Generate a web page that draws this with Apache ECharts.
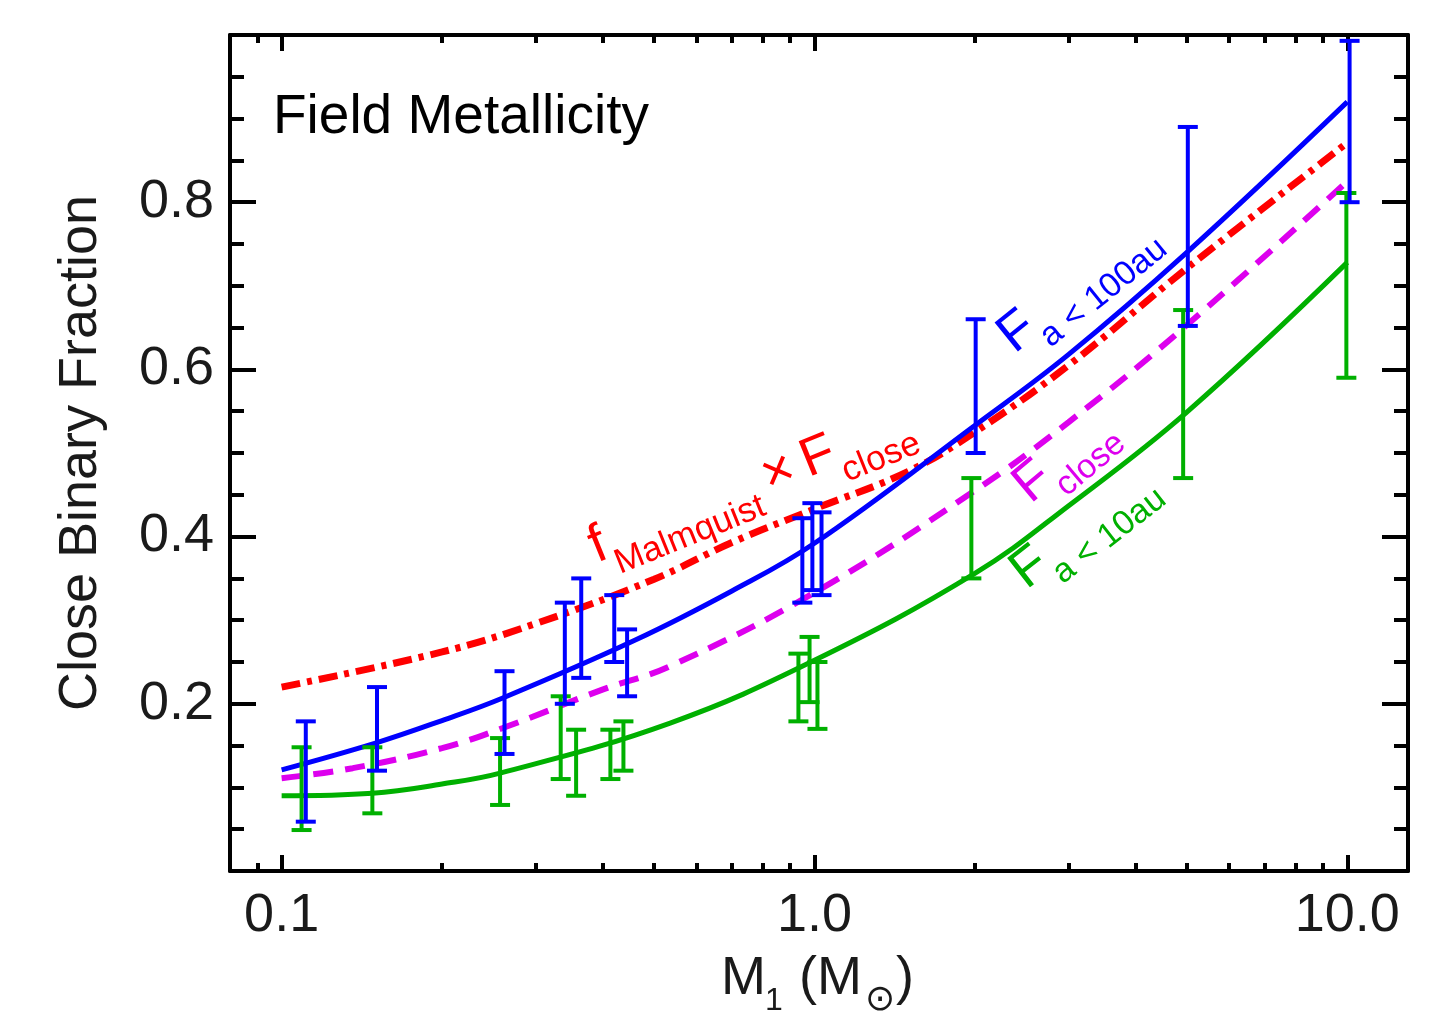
<!DOCTYPE html>
<html>
<head>
<meta charset="utf-8">
<script src="https://cdn.jsdelivr.net/npm/echarts@6/dist/echarts.min.js"></script>
<style>html,body{margin:0;padding:0;background:#fff;}#c{width:1437px;height:1027px;}</style>
</head>
<body>
<div id="c"></div>
<script>
// ---------------- data ----------------
const xMajorTicks = [0.1, 1, 10];
const xMinorTicks = [0.09, 0.2, 0.3, 0.4, 0.5, 0.6, 0.7, 0.8, 0.9, 2, 3, 4, 5, 6, 7, 8, 9];
const yLabelValues = [0.2, 0.4, 0.6, 0.8];

// F(a<100au) model curve (blue)
const wideMass = [0.1, 0.15, 0.2, 0.26, 0.46, 0.7, 1.0, 2.0, 3.0, 5.0, 10.0];
const wideFrac = [0.121, 0.153, 0.180, 0.207, 0.276, 0.335, 0.392, 0.533, 0.618, 0.740, 0.920];
// f_Malmquist x F_close (red)
const malmMass = [0.1, 0.2, 0.3, 0.5, 0.7, 1.0, 1.5, 2.0, 3.0, 5.0, 10.0];
const malmFrac = [0.220, 0.262, 0.296, 0.349, 0.393, 0.433, 0.478, 0.525, 0.605, 0.721, 0.871];
// F_close (magenta)
const closeMass = [0.1, 0.136, 0.2, 0.26, 0.4, 0.536, 1.0, 2.0, 3.0, 5.0, 10.0];
const closeFrac = [0.111, 0.123, 0.147, 0.171, 0.217, 0.245, 0.333, 0.455, 0.537, 0.653, 0.825];
// F(a<10au) model curve (green)
const nearMass = [0.1, 0.148, 0.2, 0.257, 0.536, 1.0, 2.0, 3.0, 5.0, 10.0];
const nearFrac = [0.090, 0.093, 0.104, 0.117, 0.177, 0.252, 0.356, 0.437, 0.549, 0.728];

// error bars a<100au (blue)
const wideBarMass = [0.111, 0.151, 0.262, 0.340, 0.365, 0.421, 0.445, 0.949, 0.991, 1.031, 2.007, 5.02, 10.1];
const wideBarLo   = [0.059, 0.120, 0.140, 0.200, 0.231, 0.250, 0.209, 0.321, 0.336, 0.330, 0.500, 0.652, 0.800];
const wideBarHi   = [0.179, 0.220, 0.239, 0.321, 0.350, 0.330, 0.289, 0.422, 0.440, 0.429, 0.660, 0.890, 0.993];
// error bars a<10au (green)
const nearBarMass = [0.109, 0.148, 0.257, 0.334, 0.357, 0.414, 0.438, 0.933, 0.979, 1.013, 1.97, 4.92, 9.96];
const nearBarLo   = [0.049, 0.069, 0.079, 0.110, 0.090, 0.110, 0.120, 0.179, 0.202, 0.170, 0.350, 0.470, 0.590];
const nearBarHi   = [0.148, 0.148, 0.159, 0.209, 0.169, 0.169, 0.179, 0.260, 0.280, 0.250, 0.470, 0.671, 0.811];

// ---------------- styling ----------------
const FONT = "'Liberation Sans', Arial, Helvetica, sans-serif";
const BLUE = '#0000ff', RED = '#ff0000', MAG = '#dd00ee', GREEN = '#00b000';
const TXT = '#1a1a1a';

const zip2 = (a, b) => a.map((v, i) => [v, b[i]]);
const zip3 = (a, b, c) => a.map((v, i) => [v, b[i], c[i]]);

function errorBar(color) {
  return function (params, api) {
    const x = api.value(0), lo = api.value(1), hi = api.value(2);
    const a = api.coord([x, lo]);
    const b = api.coord([x, hi]);
    const hw = 10;
    const st = { stroke: color, lineWidth: 4 };
    return {
      type: 'group',
      children: [
        { type: 'line', shape: { x1: a[0], y1: a[1], x2: b[0], y2: b[1] }, style: st },
        { type: 'line', shape: { x1: a[0] - hw, y1: a[1], x2: a[0] + hw, y2: a[1] }, style: st },
        { type: 'line', shape: { x1: b[0] - hw, y1: b[1], x2: b[0] + hw, y2: b[1] }, style: st }
      ]
    };
  };
}

function txt(x, baseline, text, size, color, family, align) {
  return {
    type: 'text', x: x, y: baseline - 0.32 * size,
    style: { text: text, font: size + 'px ' + (family || FONT), fill: color, align: align || 'left', verticalAlign: 'middle' }
  };
}
function rotLabel(ox, oy, deg, children) {
  return { type: 'group', x: ox, y: oy, rotation: deg * Math.PI / 180, children: children };
}

const lineAxisStyle = { color: '#000', width: 4 };

function xAxisDef(grid, pos, major) {
  return {
    gridIndex: grid, type: 'log', logBase: 10, min: 0.08, max: 13, position: pos,
    axisLine: { show: major, onZero: false, lineStyle: lineAxisStyle },
    axisTick: { show: true, inside: true, length: major ? 16 : 8, customValues: major ? xMajorTicks : xMinorTicks,
                lineStyle: { color: '#000', width: 4 } },
    axisLabel: { show: major && pos === 'bottom', customValues: xMajorTicks, margin: 18,
                 formatter: v => Number(v).toFixed(1), fontSize: 54, fontFamily: FONT, color: TXT },
    minorTick: { show: false }, splitLine: { show: false }, minorSplitLine: { show: false }
  };
}

function yAxisDef(grid, pos, show) {
  return {
    gridIndex: grid, type: 'value', min: 0, max: 1, interval: 0.2, position: pos, show: show,
    axisLine: { show: true, onZero: false, lineStyle: lineAxisStyle },
    axisTick: { show: true, inside: true, length: 26, lineStyle: { color: '#000', width: 4 } },
    minorTick: { show: true, splitNumber: 4, length: 14, lineStyle: { color: '#000', width: 4 } },
    axisLabel: { show: pos === 'left', customValues: yLabelValues, margin: 16,
                 formatter: v => Number(v).toFixed(1), fontSize: 54, fontFamily: FONT, color: TXT },
    splitLine: { show: false }, minorSplitLine: { show: false }
  };
}

const xAxes = [xAxisDef(0, 'bottom', true), xAxisDef(0, 'top', true), xAxisDef(1, 'bottom', false), xAxisDef(1, 'top', false)];
const yAxes = [yAxisDef(0, 'left', true), yAxisDef(0, 'right', true), yAxisDef(1, 'left', false)];
Object.assign(yAxes[0], {
  name: 'Close Binary Fraction', nameLocation: 'middle', nameGap: 122,
  nameTextStyle: { color: TXT, fontFamily: FONT, fontSize: 54 }
});

const option = {
  animation: false,
  backgroundColor: '#fff',
  grid: [
    { left: 230, right: 29, top: 35, bottom: 156 },
    { left: 230, right: 29, top: 35, bottom: 156 }
  ],
  xAxis: xAxes,
  yAxis: yAxes,
  series: [
    { name: 'F_close', type: 'line', data: zip2(closeMass, closeFrac), showSymbol: false, smooth: 0.4,
      lineStyle: { color: MAG, width: 6, type: [20, 12] }, z: 3 },
    { name: 'f_Malmquist x F_close', type: 'line', data: zip2(malmMass, malmFrac), showSymbol: false, smooth: 0.4,
      lineStyle: { color: RED, width: 7, type: [19, 7, 5, 7] }, z: 3 },
    { name: 'F a<10au', type: 'line', data: zip2(nearMass, nearFrac), showSymbol: false, smooth: 0.4,
      lineStyle: { color: GREEN, width: 5 }, z: 3 },
    { name: 'F a<100au', type: 'line', data: zip2(wideMass, wideFrac), showSymbol: false, smooth: 0.4,
      lineStyle: { color: BLUE, width: 5 }, z: 3 },
    { name: 'a<10au bars', type: 'custom', renderItem: errorBar(GREEN), data: zip3(nearBarMass, nearBarLo, nearBarHi),
      encode: { x: 0, y: [1, 2] }, z: 4 },
    { name: 'a<100au bars', type: 'custom', renderItem: errorBar(BLUE), data: zip3(wideBarMass, wideBarLo, wideBarHi),
      encode: { x: 0, y: [1, 2] }, z: 4 }
  ],
  graphic: [
    txt(273, 135, 'Field Metallicity', 55, '#000'),
    // x-axis title: M_1 (M_sun)
    txt(721, 996, 'M', 54, TXT),
    txt(765, 1011, '1', 32, TXT),
    txt(799, 996, '(', 54, TXT),
    txt(817, 996, 'M', 54, TXT),
    txt(880, 1012, '\u2299', 36, TXT, "'DejaVu Sans', sans-serif", 'center'),
    txt(896, 996, ')', 54, TXT),
    rotLabel(598, 565, 22, [
      txt(0, 0, 'f', 54, RED),
      txt(17, 18, 'Malmquist', 35, RED),
      txt(186, 0, '\u00d7', 54, RED),
      txt(228, 0, 'F', 54, RED),
      txt(262, 18, 'close', 35, RED)
    ]),
    rotLabel(1016, 356, 39, [
      txt(0, 0, 'F', 54, BLUE),
      txt(32, 17, 'a < 100au', 34, BLUE)
    ]),
    rotLabel(1032, 506, 40, [
      txt(0, 0, 'F', 54, MAG),
      txt(32, 17, 'close', 34, MAG)
    ]),
    rotLabel(1028, 592, 38, [
      txt(0, 0, 'F', 54, GREEN),
      txt(32, 17, 'a < 10au', 34, GREEN)
    ])
  ]
};

const chart = echarts.init(document.getElementById('c'), null, { renderer: 'canvas' });
chart.setOption(option);
</script>
</body>
</html>
